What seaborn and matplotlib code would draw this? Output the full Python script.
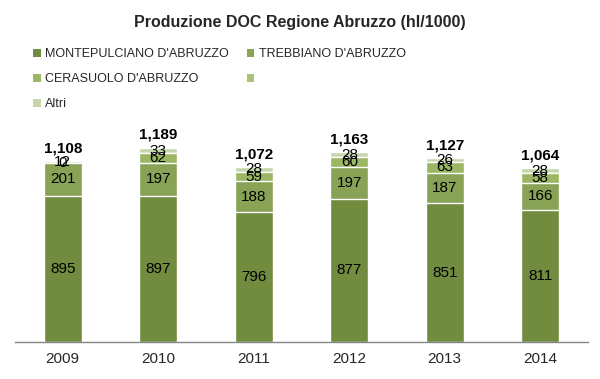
import matplotlib
matplotlib.use("Agg")
import matplotlib.pyplot as plt
import seaborn as sns
import pandas as pd
import numpy as np
from matplotlib.patches import Patch

years = ["2009", "2010", "2011", "2012", "2013", "2014"]
montepulciano = [895, 897, 796, 877, 851, 811]
trebbiano = [201, 197, 188, 197, 187, 166]
cerasuolo = [0, 62, 59, 60, 63, 58]
unnamed = [0, 0, 0, 0, 0, 0]
altri = [12, 33, 28, 28, 26, 28]
totals = [1108, 1189, 1072, 1163, 1127, 1064]

series_names = ["MONTEPULCIANO D'ABRUZZO", "TREBBIANO D'ABRUZZO",
                "CERASUOLO D'ABRUZZO", "", "Altri"]
series_vals = [montepulciano, trebbiano, cerasuolo, unnamed, altri]
colors = ["#718B3F", "#88A356", "#9BB763", "#A8C276", "#C6D6AC"]
show_labels = [True, True, True, False, True]

sns.set_theme(style="white")
FONT = ["Liberation Sans", "DejaVu Sans"]
plt.rcParams["font.family"] = FONT

fig = plt.figure(figsize=(6.0, 3.79), dpi=100)
ax = fig.add_axes([15 / 600, 1 - 342 / 379, 573 / 600, 222 / 379])

df = pd.DataFrame({"year": years})
cum = np.zeros(len(years))
cums = []
for vals in series_vals:
    cum = cum + np.array(vals)
    cums.append(cum.copy())

# draw cumulative bars from top down so the lower series sit over the upper ones
for i in reversed(range(len(series_vals))):
    df["c"] = cums[i]
    sns.barplot(data=df, x="year", y="c", color=colors[i], saturation=1,
                width=0.4, edgecolor="white", linewidth=1.0, ax=ax,
                errorbar=None)

# segment labels
for i, vals in enumerate(series_vals):
    if not show_labels[i]:
        continue
    bottoms = cums[i] - np.array(vals)
    for j, v in enumerate(vals):
        ax.text(j, bottoms[j] + v / 2, f"{v}", ha="center", va="center",
                fontsize=11, color="black", family=FONT)

for j, t in enumerate(totals):
    ax.annotate(f"{t:,}", xy=(j, cums[-1][j]), xytext=(0, 9),
                textcoords="offset pixels", ha="center", va="baseline",
                fontsize=11, fontweight="bold", color="black", family=FONT)

ax.set_xlim(-0.5, 5.5)
ax.set_ylim(0, 1360)
ax.set_xlabel("")
ax.set_ylabel("")
ax.set_yticks([])
for s in ["left", "right", "top"]:
    ax.spines[s].set_visible(False)
ax.spines["bottom"].set_color("#868686")
ax.spines["bottom"].set_linewidth(1)
ax.tick_params(axis="x", length=0, pad=7, labelsize=11)
for lbl in ax.get_xticklabels():
    lbl.set_family(FONT)

fig.text(0.5, 1 - 22 / 379, "Produzione DOC Regione Abruzzo (hl/1000)",
         ha="center", va="center", fontsize=11.5, fontweight="bold",
         family=FONT)

# legend laid out row-wise like the reference (column-major order for ncol=2)
order = [0, 2, 4, 1, 3]
handles = [Patch(facecolor=colors[k], edgecolor="none") for k in order]
labels = [series_names[k] for k in order]
leg = fig.legend(handles, labels, loc="upper left",
                 bbox_to_anchor=(33 / 600, 1 - 48 / 379), ncol=2,
                 frameon=False, fontsize=9, handlelength=0.6,
                 handleheight=0.6, handletextpad=0.35, columnspacing=1.45,
                 labelspacing=1.05, borderaxespad=0, borderpad=0)
for t in leg.get_texts():
    t.set_family(FONT)

fig.savefig("out.png", dpi=100, facecolor="white")
